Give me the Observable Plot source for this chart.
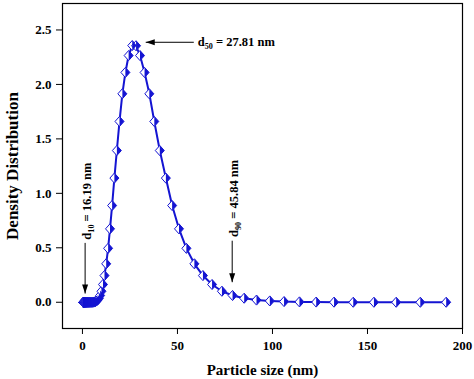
<!DOCTYPE html>
<html>
<head>
<meta charset="utf-8">
<script src="https://cdn.jsdelivr.net/npm/d3@7"></script>
<script src="https://cdn.jsdelivr.net/npm/@observablehq/plot@0.6"></script>
<style>
  html, body { margin: 0; padding: 0; background: #fff; }
</style>
</head>
<body>
<div id="chart"></div>
<script>
// Particle sizes (nm)
const sizes = [0.42, 0.45, 0.49, 0.52, 0.56, 0.61, 0.65, 0.70, 0.76, 0.82, 0.88, 0.95, 1.02, 1.10, 1.18, 1.27, 1.37, 1.47, 1.59, 1.71, 1.84, 1.98, 2.13, 2.29, 2.47, 2.66, 2.86, 3.08, 3.32, 3.57, 3.84, 4.14, 4.45, 4.80, 5.16, 5.56, 5.98, 6.45, 6.90, 7.45, 8.00, 8.65, 9.30, 10.0, 10.8, 11.6, 12.5, 13.5, 14.5, 15.6, 16.8, 18.1, 19.5, 21.0, 22.6, 24.3, 26.2, 28.2, 30.3, 32.7, 35.2, 37.8, 40.7, 43.9, 47.2, 50.8, 54.7, 58.9, 63.4, 68.2, 73.4, 79.0, 85.1, 91.6, 98.6, 106.1, 114.2, 123.0, 132.4, 142.5, 153.4, 165.1, 177.8, 191.4];
// Density distribution values
const density = [0, 0, 0, 0, 0, 0, 0, 0, 0, 0, 0, 0, 0, 0, 0, 0, 0, 0, 0, 0, 0, 0, 0, 0, 0, 0, 0, 0, 0, 0, 0, 0, 0, 0, 0, 0.0008, 0.0016, 0.0033, 0.0063, 0.012, 0.021, 0.037, 0.062, 0.101, 0.163, 0.245, 0.353, 0.495, 0.674, 0.888, 1.14, 1.393, 1.66, 1.914, 2.11, 2.265, 2.357, 2.355, 2.265, 2.11, 1.914, 1.66, 1.393, 1.14, 0.888, 0.674, 0.495, 0.353, 0.245, 0.163, 0.101, 0.062, 0.037, 0.02, 0.012, 0.0063, 0.0033, 0.0016, 0.0008, 0, 0, 0, 0, 0];

const xTicks = [0, 50, 100, 150, 200];
const yTicks = [0.0, 0.5, 1.0, 1.5, 2.0, 2.5];

// Annotations (data units)
const annoLabels = ["d50 = 27.81 nm", "d10 = 16.19 nm", "d90 = 45.84 nm"];
const annoX = [60.7, 2.3, 79.8];
const annoY = [2.387, 0.575, 0.60];
const annoRotate = [0, -90, -90];
// Arrows: start -> tip
const arrowX1 = [58.6, 1.4, 78.8];
const arrowY1 = [2.387, 0.545, 0.565];
const arrowX2 = [33.3, 1.4, 78.8];
const arrowY2 = [2.387, 0.08, 0.184];
const arrowDir = [-90, 180, 180];

const blue = "#1414d2";

const data = sizes.map((s, i) => ({x: s, y: density[i]}));
const annos = annoLabels.map((t, i) => ({t, x: annoX[i], y: annoY[i], r: annoRotate[i]}));
const arrows = arrowX1.map((x1, i) => ({x1, y1: arrowY1[i], x2: arrowX2[i], y2: arrowY2[i], dir: arrowDir[i]}));

function rad(size) { return Math.sqrt(size / Math.PI); }
const openDiamond = {draw(ctx, size) { const r = rad(size); ctx.moveTo(0, -r * 1.12); ctx.lineTo(r, 0); ctx.lineTo(0, r * 1.12); ctx.lineTo(-r, 0); ctx.closePath(); }};
const rightHalf = {draw(ctx, size) { const r = rad(size); ctx.moveTo(0, -r * 1.12); ctx.lineTo(r, 0); ctx.lineTo(0, r * 1.12); ctx.closePath(); }};
const head = {draw(ctx, size) { ctx.moveTo(0, 0); ctx.lineTo(3, 9); ctx.lineTo(-3, 9); ctx.closePath(); }};

const plot = Plot.plot({
  width: 474,
  height: 379,
  marginLeft: 62,
  marginRight: 12,
  marginTop: 3,
  marginBottom: 51,
  style: {fontFamily: "'Liberation Serif', 'Times New Roman', serif", fontWeight: "bold", fontSize: "13px", background: "#fff", color: "#000"},
  x: {domain: [-10.5, 200], ticks: xTicks, tickFormat: d => String(d), tickSize: 6, tickPadding: 6, label: null},
  y: {domain: [-0.241, 2.743], ticks: yTicks, tickFormat: d => d.toFixed(1), tickSize: 6, tickPadding: 5, label: null},
  marks: [
    Plot.line(data, {x: "x", y: "y", stroke: blue, strokeWidth: 2}),
    Plot.dot(data, {x: "x", y: "y", r: 4.5, symbol: openDiamond, fill: "#fff", stroke: blue, strokeWidth: 1}),
    Plot.dot(data, {x: "x", y: "y", r: 4.5, symbol: rightHalf, fill: blue, stroke: "none"}),
    Plot.link(arrows, {x1: "x1", y1: "y1", x2: "x2", y2: "y2", stroke: "#000", strokeWidth: 1}),
    Plot.dot(arrows, {x: "x2", y: "y2", r: 3, symbol: head, rotate: "dir", fill: "#000", stroke: "none"}),
    Plot.text(annos.filter(d => d.r === 0), {x: "x", y: "y", text: "t", textAnchor: "start", fontSize: 12.5, fill: "#000"}),
    Plot.text(annos.filter(d => d.r !== 0), {x: "x", y: "y", text: "t", rotate: -90, textAnchor: "start", fontSize: 12.5, fill: "#000"}),
    Plot.text(["Particle size (nm)"], {frameAnchor: "bottom", dy: 42, textAnchor: "middle", lineAnchor: "middle", fontSize: 15, fill: "#000"}),
    Plot.text(["Density Distribution"], {frameAnchor: "left", dx: -50, rotate: -90, textAnchor: "middle", lineAnchor: "middle", fontSize: 17, fill: "#000"}),
    Plot.frame({stroke: "#000", strokeWidth: 1.2})
  ]
});

// Subscripts for the d-values
d3.select(plot).selectAll("text").each(function() {
  const t = this.textContent;
  const m = /^d(\d\d)( = .*)$/.exec(t);
  if (!m) return;
  const sel = d3.select(this);
  sel.text(null);
  sel.append("tspan").text("d");
  sel.append("tspan").attr("font-size", "0.65em").attr("dy", "0.35em").text(m[1]);
  sel.append("tspan").attr("dy", "-0.23em").text(m[2]);
});

document.getElementById("chart").appendChild(plot);
</script>
</body>
</html>
